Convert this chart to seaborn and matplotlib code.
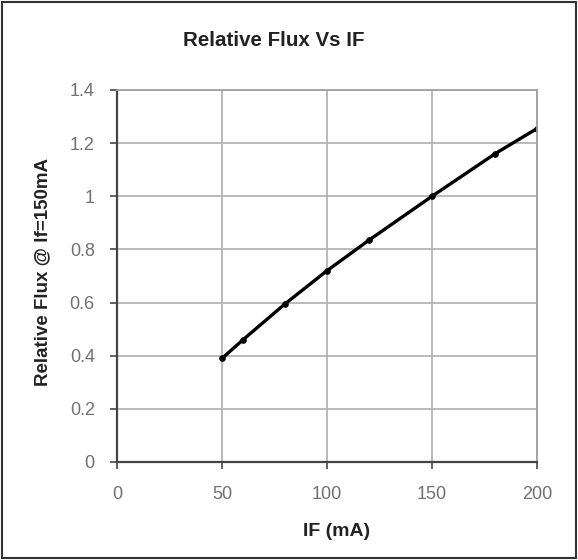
import pandas as pd
import seaborn as sns
import matplotlib.pyplot as plt
from matplotlib.patches import Rectangle

# Data
if_ma = [50, 60, 80, 100, 120, 150, 180, 200]
rel_flux = [0.39, 0.46, 0.595, 0.72, 0.835, 1.0, 1.16, 1.255]
x_ticks = [0, 50, 100, 150, 200]
y_ticks = [0, 0.2, 0.4, 0.6, 0.8, 1.0, 1.2, 1.4]
y_labels = ['0', '0.2', '0.4', '0.6', '0.8', '1', '1.2', '1.4']

df = pd.DataFrame({'IF': if_ma, 'flux': rel_flux})

sns.set_style('white')
plt.rcParams['font.family'] = ['Liberation Sans', 'DejaVu Sans']

fig = plt.figure(figsize=(5.78, 5.6), dpi=100)
ax = fig.add_axes([117 / 578, 1 - 462 / 560, 420 / 578, 372 / 560])

sns.lineplot(data=df, x='IF', y='flux', ax=ax, color='black', linewidth=2.4,
             marker='o', markersize=4, markeredgecolor='black')

ax.set_xlim(0, 200)
ax.set_ylim(0, 1.4)
ax.set_xticks(x_ticks)
ax.set_yticks(y_ticks)
ax.set_yticklabels(y_labels)
ax.grid(True, color='#b4b4b4', linewidth=1.3)
ax.set_axisbelow(True)

for side in ['top', 'right']:
    ax.spines[side].set_color('#a0a0a0')
    ax.spines[side].set_linewidth(1.3)
for side in ['left', 'bottom']:
    ax.spines[side].set_color('#444444')
    ax.spines[side].set_linewidth(1.6)

ax.tick_params(axis='both', colors='#555555', labelcolor='#707070', labelsize=13,
               direction='out', length=5, width=1.3)
ax.tick_params(axis='x', pad=12)
ax.tick_params(axis='y', pad=11)
ax.tick_params(left=True, bottom=True)

ax.set_xlabel('IF (mA)', fontsize=14, fontweight='bold', color='#222222')
ax.xaxis.set_label_coords((337 - 117) / 420, -(532 - 462) / 372)
ax.xaxis.label.set_va('center')
ax.set_ylabel('Relative Flux @ If=150mA', fontsize=13.5, fontweight='bold', color='#222222')
ax.yaxis.set_label_coords(-(117 - 43) / 420, (462 - 272) / 372)
ax.yaxis.label.set_va('center')
fig.text(274 / 578, 1 - 40 / 560, 'Relative Flux Vs IF', ha='center', va='center',
         fontsize=14.8, fontweight='bold', color='#222222')

# outer border
fig.patches.append(Rectangle((0.004, 0.004), 0.992, 0.992, transform=fig.transFigure,
                             fill=False, edgecolor='#333333', linewidth=1.5))

plt.savefig('out.png', dpi=100)
